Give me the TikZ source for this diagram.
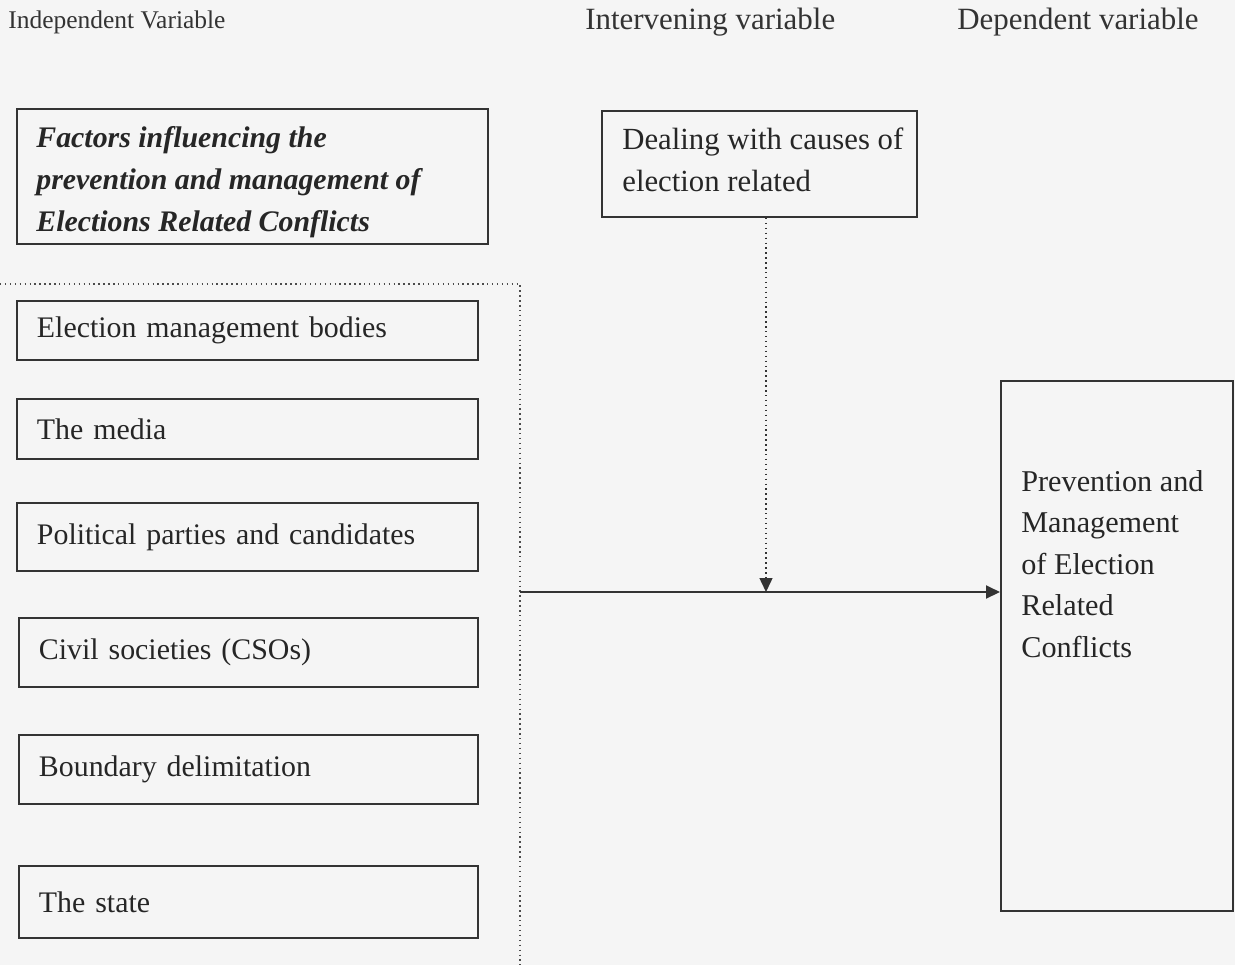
\documentclass[tikz,border=0pt]{standalone}
\usepackage{fontspec}
\setmainfont{Liberation Serif}
\usetikzlibrary{arrows.meta}
\begin{document}
\begin{tikzpicture}[x=0.02cm,y=-0.02cm,
  box/.style={draw=black!80, line width=1.1pt, inner ysep=0pt, inner xsep=0.4cm, align=left, anchor=north west, text=black!85, font=\fontsize{17}{24}\selectfont},
  txt/.style={anchor=west, inner sep=0pt, align=left, text=black!85, font=\fontsize{17.5}{24}\selectfont},
  hdr/.style={anchor=west, inner sep=0pt, text=black!80, font=\fontsize{14.5}{18}\selectfont},
  conn/.style={draw=black!80, line width=1.1pt},
  tip/.style={-{Triangle[length=0.28cm,width=0.26cm]}}
]
\useasboundingbox[fill=black!4] (0,0) rectangle (1235,965);
% headers
\node[hdr] (h1) at (8,22) {Independent Variable};
\node[hdr, font=\fontsize{17.6}{20}\selectfont] (h2) at (585,22) {Intervening variable};
\node[hdr, font=\fontsize{17.6}{20}\selectfont] (h3) at (957,22) {Dependent variable};
% boxes
\node[box, minimum width=9.42cm, minimum height=2.7cm] (fact) at (16,108) {};
\node[txt, font=\fontsize{17}{24}\selectfont\bfseries\itshape] (facttxt) at (36,182)
  {Factors influencing the\\prevention and management of\\Elections Related Conflicts};
\node[box, minimum width=6.3cm, minimum height=2.12cm] (deal) at (601,110) {};
\node[txt] (dealtxt) at (622,160) {Dealing with causes of\\election related};
\node[box, minimum width=9.22cm, minimum height=1.18cm, text width=8.42cm] (emb) at (16,300) {Election management bodies};
\node[box, minimum width=9.22cm, minimum height=1.2cm, text width=8.42cm] (med) at (16,398) {The media};
\node[box, minimum width=9.22cm, minimum height=1.36cm, text width=8.42cm] (pol) at (16,502) {Political parties and candidates};
\node[box, minimum width=9.18cm, minimum height=1.38cm, text width=8.38cm] (civ) at (18,617) {Civil societies (CSOs)};
\node[box, minimum width=9.18cm, minimum height=1.38cm, text width=8.38cm] (bnd) at (18,734) {Boundary delimitation};
\node[box, minimum width=9.18cm, minimum height=1.44cm, text width=8.38cm] (sta) at (18,865) {The state};
\node[box, minimum width=4.64cm, minimum height=10.6cm] (dep) at (1000,380) {};
\node[txt, font=\fontsize{17.2}{23.6}\selectfont] (deptxt) at (1021,564)
  {Prevention and\\Management\\of Election\\Related\\Conflicts};
% bracket
\coordinate (bl) at (0,284);
\coordinate (bc) at (520,284);
\coordinate (bb) at (520,965);
\draw[draw=black!70, line width=0.8pt, dotted] (bl) -- (bc) -- (bb);
% connectors
\coordinate (j) at (520,592);
\coordinate (m) at (766,592);
\draw[conn, tip] (j) -- (dep.west |- j);
\draw[conn, line width=0.8pt, dotted, tip] (deal.south -| m) -- (m);
\end{tikzpicture}
\end{document}
